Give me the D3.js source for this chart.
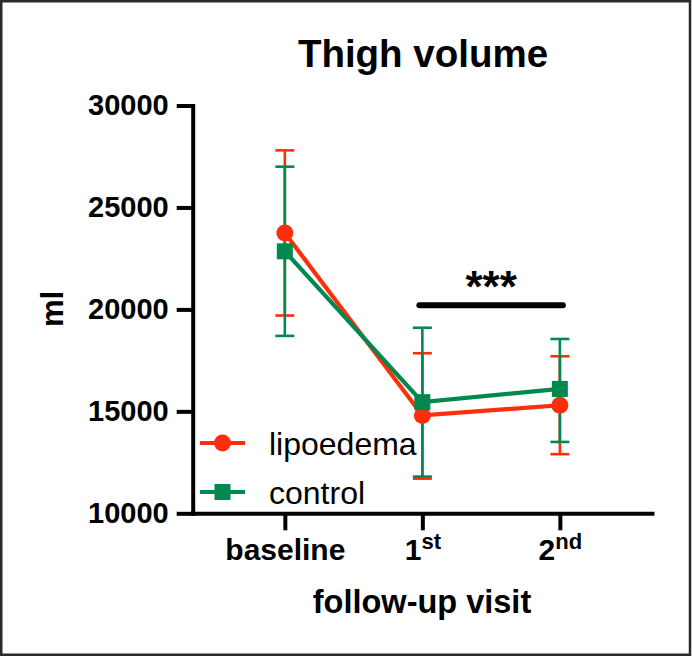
<!DOCTYPE html>
<html>
<head>
<meta charset="utf-8">
<script src="https://cdn.jsdelivr.net/npm/d3@7"></script>
<style>
  html, body { margin: 0; padding: 0; background: #fff; }
  svg { display: block; }
  text { font-family: "Liberation Sans", Arial, Helvetica, sans-serif; }
</style>
</head>
<body>
<svg id="chart" width="692" height="656"></svg>
<script>
// ---- data ----
const categories = ["baseline", "1st", "2nd"];
const lipoMean  = [23750, 14800, 15300];
const lipoUpper = [27800, 17850, 17700];
const lipoLower = [19700, 11700, 12900];
const ctrlMean  = [22850, 15450, 16100];
const ctrlUpper = [27000, 19100, 18550];
const ctrlLower = [18700, 11800, 13500];
const yTicks = [10000, 15000, 20000, 25000, 30000];
const seriesNames = ["lipoedema", "control"];
const sigFrom = "1st", sigTo = "2nd", sigValue = 20200, sigLabel = "***";

const RED = "#ff2e0a", GREEN = "#00894f";

const svg = d3.select("#chart");

// frame
svg.append("rect").attr("x", 1.25).attr("y", 1.25).attr("width", 688.75).attr("height", 653.5)
  .attr("fill", "#fff").attr("stroke", "#2a2a2a").attr("stroke-width", 2.5);

const x0 = 192.7, x1 = 652, yB = 513.3, yT = 105.5;
const idx = d3.scaleLinear().domain([-0.67, 2.67]).range([x0, x1]);
const xPos = c => idx(categories.indexOf(c));
const y = d3.scaleLinear().domain([10000, 30000]).range([yB, yT]);

// y axis
const gy = svg.append("g").attr("transform", `translate(${x0},0)`)
  .call(d3.axisLeft(y).tickValues(yTicks).tickSize(16).tickSizeOuter(0).tickPadding(8).tickFormat(d3.format("d")));
gy.select(".domain").attr("stroke", "#000").attr("stroke-width", 4).attr("stroke-linecap", "square");
gy.selectAll(".tick line").attr("stroke", "#000").attr("stroke-width", 4);
gy.selectAll(".tick text").attr("font-size", 29).attr("font-weight", "bold").attr("fill", "#000")
  .attr("font-family", "'Liberation Sans', Arial, sans-serif");

// x axis
const xAxisScale = d3.scaleLinear().domain(idx.domain()).range(idx.range());
const gx = svg.append("g").attr("transform", `translate(0,${yB})`)
  .call(d3.axisBottom(xAxisScale).tickValues(d3.range(categories.length)).tickSize(17).tickSizeOuter(0).tickPadding(8).tickFormat(i => categories[i]));
gx.select(".domain").attr("stroke", "#000").attr("stroke-width", 4).attr("stroke-linecap", "square");
gx.selectAll(".tick line").attr("stroke", "#000").attr("stroke-width", 4);
gx.selectAll(".tick text").attr("font-size", 30).attr("font-weight", "bold").attr("fill", "#000")
  .attr("font-family", "'Liberation Sans', Arial, sans-serif")
  .each(function(i) {
    const t = d3.select(this);
    const lab = categories[i];
    const m = lab.match(/^(\d+)(\D+)$/);
    if (m) {
      t.text(null);
      t.append("tspan").text(m[1]);
      t.append("tspan").text(m[2]).attr("font-size", 22).attr("dy", -11);
    }
  });

// axis titles
svg.append("text").attr("x", 423).attr("y", 67).attr("text-anchor", "middle")
  .attr("font-size", 38.5).attr("font-weight", "bold").text("Thigh volume");
svg.append("text").attr("transform", "translate(63,309) rotate(-90)").attr("text-anchor", "middle")
  .attr("font-size", 31).attr("font-weight", "bold").text("ml");
svg.append("text").attr("x", 422).attr("y", 613).attr("text-anchor", "middle")
  .attr("font-size", 32.5).attr("font-weight", "bold").text("follow-up visit");

// series
const series = [
  {name: seriesNames[0], mean: lipoMean, up: lipoUpper, lo: lipoLower, color: RED, shape: "circle"},
  {name: seriesNames[1], mean: ctrlMean, up: ctrlUpper, lo: ctrlLower, color: GREEN, shape: "square"}
];

const plot = svg.append("g");
const capW = 19;
series.forEach(s => {
  const g = plot.append("g");
  categories.forEach((c, i) => {
    const cx = xPos(c);
    g.append("line").attr("x1", cx).attr("x2", cx).attr("y1", y(s.up[i])).attr("y2", y(s.lo[i]))
      .attr("stroke", s.color).attr("stroke-width", 2.6);
    [s.up[i], s.lo[i]].forEach(v => {
      g.append("line").attr("x1", cx - capW / 2).attr("x2", cx + capW / 2).attr("y1", y(v)).attr("y2", y(v))
        .attr("stroke", s.color).attr("stroke-width", 2.6);
    });
  });
});
series.forEach(s => {
  const line = d3.line().x((d, i) => xPos(categories[i])).y(d => y(d));
  plot.append("path").datum(s.mean).attr("d", line).attr("fill", "none")
    .attr("stroke", s.color).attr("stroke-width", 4.2).attr("stroke-linejoin", "miter");
});
function marker(g, shape, cx, cy, color) {
  if (shape === "circle") {
    g.append("circle").attr("cx", cx).attr("cy", cy).attr("r", 8.5).attr("fill", color);
  } else {
    g.append("rect").attr("x", cx - 8).attr("y", cy - 8).attr("width", 16).attr("height", 16).attr("fill", color);
  }
}
series.forEach(s => {
  s.mean.forEach((v, i) => marker(plot, s.shape, xPos(categories[i]), y(v), s.color));
});

// significance bar
const sx1 = xPos(sigFrom) - 3, sx2 = xPos(sigTo) + 3;
svg.append("line").attr("x1", sx1).attr("x2", sx2).attr("y1", y(sigValue)).attr("y2", y(sigValue))
  .attr("stroke", "#000").attr("stroke-width", 6).attr("stroke-linecap", "round");
svg.append("text").attr("x", (sx1 + sx2) / 2).attr("y", y(sigValue) - 3).attr("text-anchor", "middle")
  .attr("font-size", 44).attr("font-weight", "bold").text(sigLabel);

// legend
const legY = [443, 492];
series.forEach((s, i) => {
  const g = svg.append("g").attr("transform", `translate(0,${legY[i]})`);
  g.append("line").attr("x1", 200).attr("x2", 245).attr("y1", 0).attr("y2", 0)
    .attr("stroke", s.color).attr("stroke-width", 4.2);
  marker(g, s.shape, 222.5, 0, s.color);
  g.append("text").attr("x", 269).attr("y", 12).attr("font-size", 32).attr("fill", "#000").text(s.name);
});
</script>
</body>
</html>
